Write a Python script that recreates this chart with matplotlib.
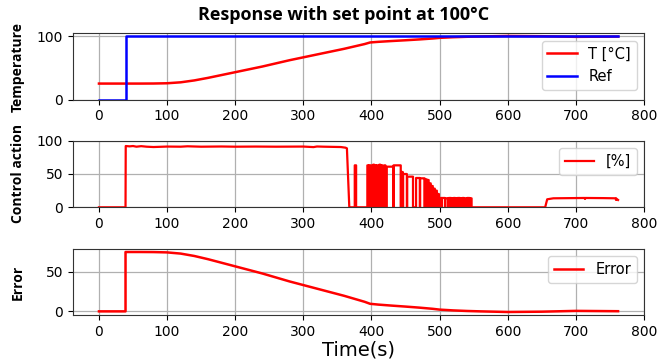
import numpy as np
import matplotlib
matplotlib.use("Agg")
import matplotlib.pyplot as plt

# temperature response (time in s)
temp_t = [0, 20, 39, 39, 60, 80, 100, 120, 140, 160, 180, 200, 220, 240, 260, 280,
          300, 320, 340, 360, 380, 390, 398, 410, 430, 450, 470, 490, 500, 520,
          540, 560, 600, 650, 700, 762]
temp_v = [25.5, 25.5, 25.5, 25.5, 25.5, 25.6, 26, 27.5, 30.5, 34.5, 39, 43.5, 48, 52.5,
          57.5, 62.5, 67, 71.5, 76, 80.5, 85.5, 88, 90.5, 91.5, 92.8, 94, 95.3, 96.8,
          97.8, 98.8, 99.5, 100, 100.8, 100.4, 99.4, 99.8]
ref_v = [0, 0, 0, 100] + [100] * (len(temp_t) - 4)

# control action: breakpoints outside the switching region
ctrl_start_t = [0, 39, 39.3, 45, 50, 55, 62, 70, 80, 90, 100, 120, 130, 150, 180, 200,
                230, 260, 300, 315, 320, 330, 345, 355, 362, 364, 367.5]
ctrl_start_u = [0, 0, 92, 91.5, 92, 91, 91.8, 91, 90.5, 90.8, 91.2, 91, 91.6, 91, 91.3,
                91, 91.2, 91, 91.2, 90.4, 91.3, 91, 90.8, 90.5, 89.5, 88.5, 0]
# switching region: (on, off, level), output drops to 0 in between
ctrl_pulses = [(375.5, 377.5, 63), (394, 395.5, 63), (396.5, 398, 63), (400, 401.5, 63),
               (402.5, 404, 64), (405, 406.5, 63), (408, 409.5, 63), (411.5, 413, 64),
               (415, 416.5, 63), (419, 420.5, 63), (422.5, 432, 61), (432.5, 443, 63),
               (443.5, 446, 53), (446.5, 452, 50), (452.5, 461, 46), (465.5, 471, 44),
               (471.5, 478, 43.5), (478.5, 481, 42), (481.5, 484, 41), (484.5, 487, 36),
               (487.5, 490, 32), (490.5, 493, 28), (493.5, 496, 25), (496.5, 499, 20),
               (500, 503, 14), (503.5, 508, 14), (508.5, 513, 13.5), (513.5, 517, 14),
               (517.5, 520, 13.5), (520.5, 523, 14), (523.5, 526, 13.5), (526.5, 530, 14),
               (530.5, 533, 13.5), (533.5, 536, 14), (536.5, 540, 13.5), (540.5, 544, 14),
               (544.5, 547, 13.5)]
ctrl_end_t = [655, 658, 667, 690, 713, 713.5, 714, 740, 755, 758.5, 759, 759.5, 762]
ctrl_end_u = [0, 12, 13.5, 13.8, 14, 12.5, 14, 13.8, 13.5, 13.5, 11, 13, 11]

ctrl_t = list(ctrl_start_t)
ctrl_u = list(ctrl_start_u)
for on, off, lvl in ctrl_pulses:
    ctrl_t += [on, on, off, off]
    ctrl_u += [0, lvl, lvl, 0]
ctrl_t += ctrl_end_t
ctrl_u += ctrl_end_u

# error = ref - T once the set point is applied
err_v = [r - v if r > 0 else 0 for r, v in zip(ref_v, temp_v)]

fig = plt.figure(figsize=(6.59, 3.61), dpi=100)
W, H = 659, 361


def make_ax(top, bottom):
    return fig.add_axes([73 / W, 1 - bottom / H, (644 - 73) / W, (bottom - top) / H])


ax1 = make_ax(33.3, 99.7)
ax2 = make_ax(140.7, 207.3)
ax3 = make_ax(249, 315)

ax1.plot(temp_t, temp_v, color="red", lw=1.8, label="T [°C]")
ax1.plot(temp_t, ref_v, color="blue", lw=1.8, label="Ref")
ax1.set_ylim(0, 105)
ax1.set_yticks([0, 100])

ax2.plot(ctrl_t, ctrl_u, color="red", lw=1.6, label="[%]")
ax2.set_ylim(0, 100)
ax2.set_yticks([0, 50, 100])

ax3.plot(temp_t, err_v, color="red", lw=1.8, label="Error")
ax3.set_yticks([0, 50])

ylab = {ax1: "Temperature", ax2: "Control action", ax3: "Error"}
for ax in (ax1, ax2, ax3):
    ax.set_xlim(-38.1, 800.1)
    ax.set_xticks(range(0, 801, 100))
    ax.grid(True, color="#b0b0b0", lw=0.9)
    ax.tick_params(labelsize=10)
    ax.legend(loc="upper right", fontsize=10.5)
    ax.set_ylabel(ylab[ax], family="Open Sans", fontweight="bold", fontsize=10)
    ax.yaxis.set_label_coords(-0.084, 0.5)
    for s in ax.spines.values():
        s.set_color("#333333")

fig.text(343.5 / W, 1 - 20 / H, "Response with set point at 100°C", family="Open Sans",
         fontweight="bold", fontsize=13, ha="center", va="baseline")
fig.text(359 / W, 1 - 340 / H, "Time(s)", fontsize=14, ha="center", va="top")

fig.savefig("out.png", dpi=100)
